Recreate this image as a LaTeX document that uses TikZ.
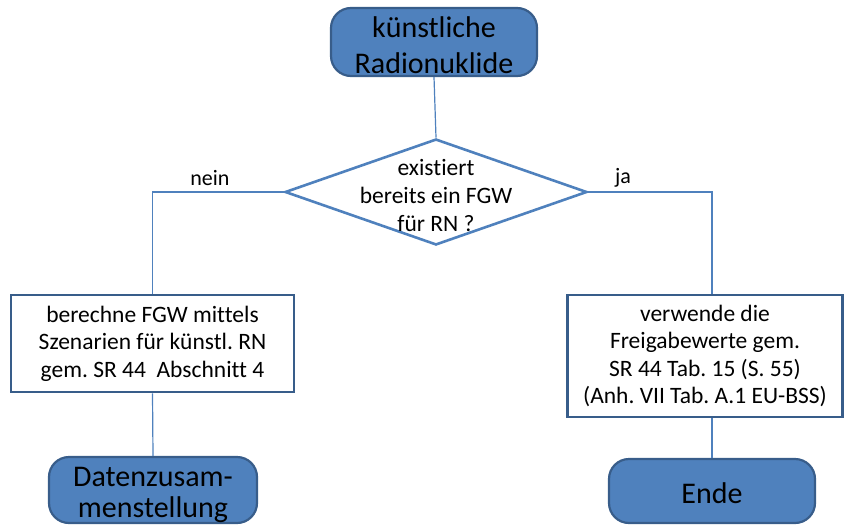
\documentclass[tikz,border=0pt]{standalone}
\usepackage{fontspec}
\setmainfont[Ligatures=NoCommon]{Carlito}
\usetikzlibrary{shapes.geometric}
\definecolor{accent}{HTML}{4F81BD}
\definecolor{accentdark}{HTML}{385D8A}
\tikzset{
  terminal/.style={draw=accentdark, line width=2.2pt, fill=accent, rounded corners=20pt,
    inner sep=0pt},
  termtext/.style={align=center, inner sep=0pt, font=\fontsize{30}{36}\selectfont},
  decision/.style={draw=accent, line width=2.6pt, fill=white, diamond, inner sep=0pt,
    minimum width=302pt, minimum height=106pt},
  process/.style={draw=accentdark, line width=2.6pt, fill=white, inner sep=0pt,
    align=center, font=\fontsize{23.5}{27.5}\selectfont},
  conn/.style={draw=accent, line width=1.2pt},
  branch/.style={font=\fontsize{22}{26}\selectfont}
}
\begin{document}
\frenchspacing
\begin{tikzpicture}[x=1pt,y=-1pt]
\useasboundingbox (0,0) rectangle (845,525);
% start
\node[terminal, minimum width=206pt, minimum height=68pt] (start) at (434,42) {};
\node[termtext] (starttext) at (434,45) {künstliche\\Radionuklide};
% decision
\node[decision] (q) at (436,192) {};
\node[align=center, inner sep=0pt, font=\fontsize{23.5}{28}\selectfont] (qtext) at (436,195)
  {existiert\\bereits ein FGW\\für RN ?};
% processes
\node[process, minimum width=283pt, minimum height=97pt] (calc) at (152.5,343.5)
  {berechne FGW mittels\\Szenarien für künstl. RN\\gem. SR 44\ \ Abschnitt 4};
\node[process, minimum width=275pt, minimum height=122pt] (use) at (705,356)
  {verwende die\\Freigabewerte gem.\\SR 44 Tab. 15 (S. 55)\\(Anh. VII Tab. A.1 EU-BSS)};
% ends
\node[terminal, minimum width=208pt, minimum height=66pt] (data) at (153,490) {};
\node[termtext, font=\fontsize{30}{31}\selectfont] (datatext) at (153,495)
  {Datenzusam-\\menstellung};
\node[terminal, minimum width=206pt, minimum height=64pt] (stop) at (712,491) {};
\node[termtext] (stoptext) at (712,493) {Ende};
% connectors
\draw[conn] (start.south) -- (q.north);
\draw[conn] (q.west) -| (calc.north);
\draw[conn] (q.east) -| ([xshift=7pt]use.north);
\draw[conn] (calc.south) -- (data.north);
\draw[conn] ([xshift=7pt]use.south) -- (stop.north);
% branch labels
\node[branch] (no) at (210,178) {nein};
\node[branch] (yes) at (623,178) {ja};
\end{tikzpicture}
\end{document}
